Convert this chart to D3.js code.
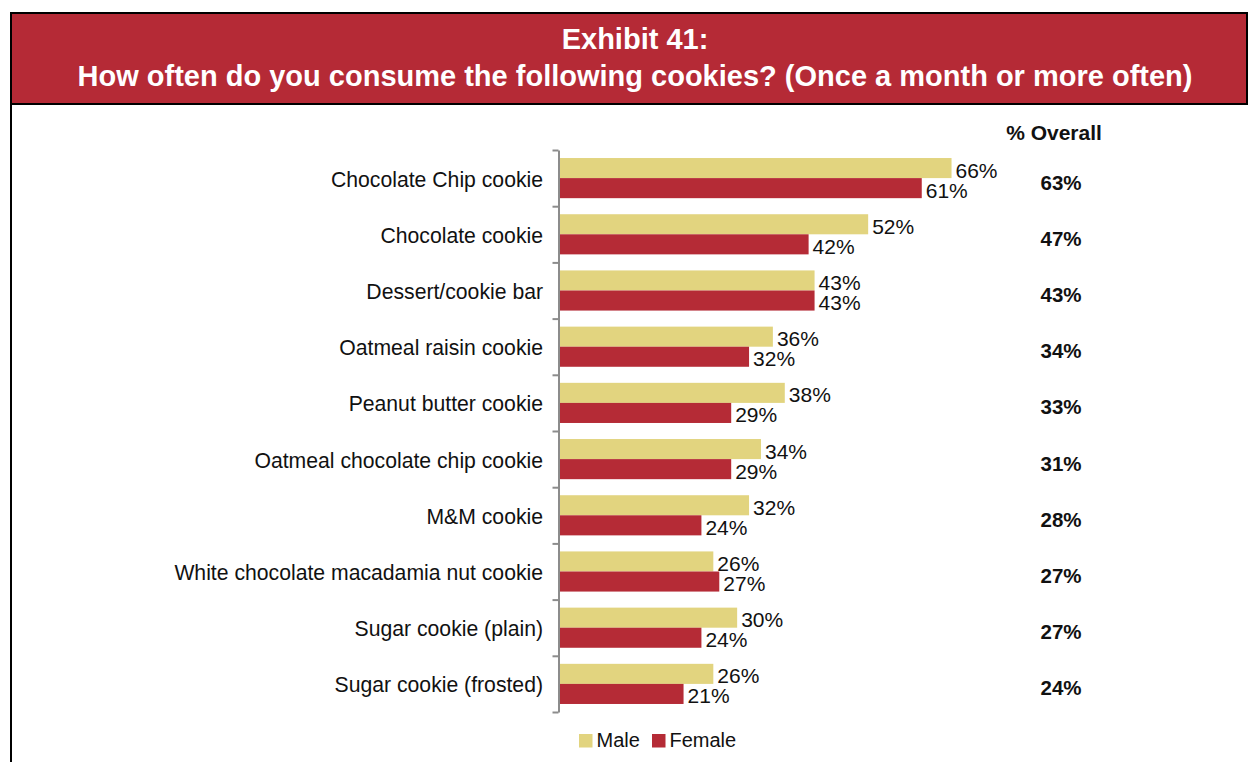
<!DOCTYPE html>
<html>
<head>
<meta charset="utf-8">
<script src="https://cdn.jsdelivr.net/npm/d3@7"></script>
<style>
  html, body { margin: 0; padding: 0; background: #ffffff; }
  svg { display: block; font-family: "Liberation Sans", Arial, sans-serif; }
</style>
</head>
<body>
<svg id="chart" width="1248" height="762"></svg>
<script>
// Survey results: share consuming each cookie once a month or more often
const categories = [
  "Chocolate Chip cookie",
  "Chocolate cookie",
  "Dessert/cookie bar",
  "Oatmeal raisin cookie",
  "Peanut butter cookie",
  "Oatmeal chocolate chip cookie",
  "M&M cookie",
  "White chocolate macadamia nut cookie",
  "Sugar cookie (plain)",
  "Sugar cookie (frosted)"
];
const maleValues   = [66, 52, 43, 36, 38, 34, 32, 26, 30, 26];
const femaleValues = [61, 42, 43, 32, 29, 29, 24, 27, 24, 21];
const overallValues = [63, 47, 43, 34, 33, 31, 28, 27, 27, 24];
const seriesNames = ["Male", "Female"];
const titleLines = [
  "Exhibit 41:",
  "How often do you consume the following cookies? (Once a month or more often)"
];
const overallHeader = "% Overall";

const colors = { Male: "#E2D47F", Female: "#B52B36" };
const headerRed = "#B52A36";

const svg = d3.select("#chart");

// Frame: left rule running down the page
svg.append("line")
  .attr("x1", 11).attr("x2", 11)
  .attr("y1", 12).attr("y2", 762)
  .attr("stroke", "#000").attr("stroke-width", 2);

// Title banner
const header = svg.append("g");
header.append("rect")
  .attr("x", 11).attr("y", 13)
  .attr("width", 1236).attr("height", 91)
  .attr("fill", headerRed)
  .attr("stroke", "#000").attr("stroke-width", 2);
header.selectAll("text")
  .data(titleLines)
  .join("text")
  .attr("x", 635)
  .attr("y", (d, i) => i === 0 ? 49 : 86)
  .attr("text-anchor", "middle")
  .attr("fill", "#ffffff")
  .attr("font-weight", "bold")
  .attr("font-size", "29px")
  .text(d => d);

// Scales
const y = d3.scaleBand().domain(categories).range([150, 712]).padding(0);
const ySub = d3.scaleBand().domain(seriesNames).range([0, y.bandwidth()])
  .paddingInner(0).paddingOuter(0.4);
const x = d3.scaleLinear().domain([0, 100]).range([558.5, 1154]);

const rows = categories.map((c, i) => ({
  category: c,
  Male: maleValues[i],
  Female: femaleValues[i],
  overall: overallValues[i]
}));

// Bars and value labels
const rowG = svg.append("g").selectAll("g")
  .data(rows)
  .join("g")
  .attr("transform", d => `translate(0,${y(d.category)})`);

rowG.selectAll("rect")
  .data(d => seriesNames.map(s => ({ key: s, value: d[s] })))
  .join("rect")
  .attr("x", x(0))
  .attr("y", d => ySub(d.key))
  .attr("width", d => x(d.value) - x(0))
  .attr("height", ySub.bandwidth())
  .attr("fill", d => colors[d.key]);

rowG.selectAll("text.value")
  .data(d => seriesNames.map(s => ({ key: s, value: d[s] })))
  .join("text")
  .attr("class", "value")
  .attr("x", d => x(d.value) + 4)
  .attr("y", d => ySub(d.key) + ySub.bandwidth() / 2 + 2)
  .attr("dominant-baseline", "central")
  .attr("font-size", "21px")
  .attr("fill", "#111")
  .text(d => d.value + "%");

// Category labels
svg.append("g").selectAll("text")
  .data(rows)
  .join("text")
  .attr("x", 543)
  .attr("y", d => y(d.category) + y.bandwidth() / 2 + 1)
  .attr("text-anchor", "end")
  .attr("dominant-baseline", "central")
  .attr("font-size", "21.2px")
  .attr("fill", "#111")
  .text(d => d.category);

// Category axis with ticks at band boundaries
const boundary = d3.scaleLinear().domain([0, categories.length]).range([150, 712]);
const axisG = svg.append("g")
  .attr("transform", `translate(${x(0)},0)`)
  .call(d3.axisLeft(boundary)
    .tickValues(d3.range(categories.length + 1))
    .tickSize(6)
    .tickSizeOuter(0)
    .tickFormat(""));
axisG.selectAll("path, line")
  .attr("stroke", "#8C8C8C")
  .attr("stroke-width", 2);

// Overall column
svg.append("text")
  .attr("x", 1054)
  .attr("y", 140)
  .attr("text-anchor", "middle")
  .attr("font-weight", "bold")
  .attr("font-size", "21px")
  .attr("fill", "#111")
  .text(overallHeader);

svg.append("g").selectAll("text")
  .data(rows)
  .join("text")
  .attr("x", 1061)
  .attr("y", d => y(d.category) + y.bandwidth() / 2 + 4)
  .attr("text-anchor", "middle")
  .attr("dominant-baseline", "central")
  .attr("font-weight", "bold")
  .attr("font-size", "20.5px")
  .attr("fill", "#111")
  .text(d => d.overall + "%");

// Legend
const legend = svg.append("g").attr("transform", "translate(579,734)");
const legendItems = legend.selectAll("g")
  .data(seriesNames)
  .join("g")
  .attr("transform", (d, i) => `translate(${i * 73},0)`);
legendItems.append("rect")
  .attr("width", 13.5).attr("height", 13.5)
  .attr("fill", d => colors[d]);
legendItems.append("text")
  .attr("x", 17.5)
  .attr("y", 12.7)
  .attr("font-size", "20px")
  .attr("fill", "#111")
  .text(d => d);
</script>
</body>
</html>
